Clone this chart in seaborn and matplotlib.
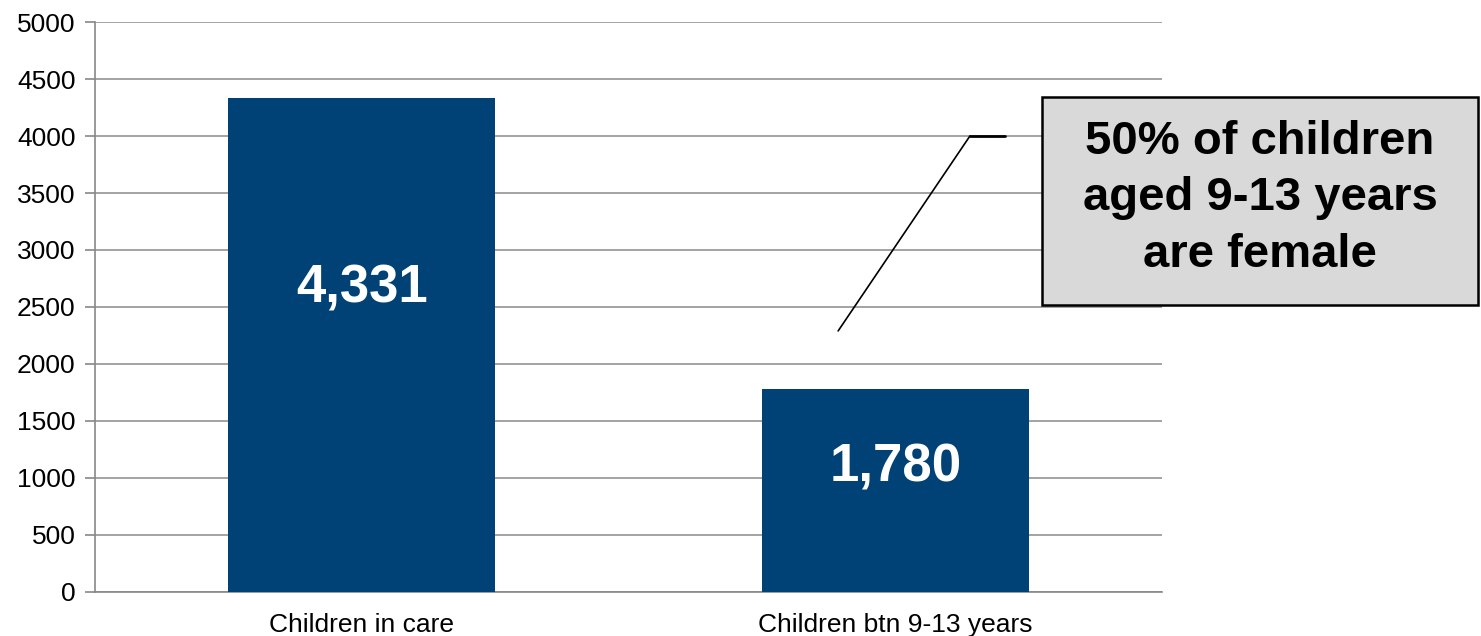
import matplotlib
matplotlib.use("Agg")
import matplotlib.pyplot as plt
import seaborn as sns
import pandas as pd
from matplotlib.patches import Rectangle

categories = ["Children in care", "Children btn 9-13 years"]
values = [4331, 1780]
value_labels = ["4,331", "1,780"]
yticks = [0, 500, 1000, 1500, 2000, 2500, 3000, 3500, 4000, 4500, 5000]
callout_text = "50% of children\naged 9-13 years\nare female"

sns.set_theme(style="white")
plt.rcParams['font.family'] = ['Liberation Sans', 'DejaVu Sans']

df = pd.DataFrame({"cat": categories, "val": values})

fig = plt.figure(figsize=(14.81, 6.36), dpi=100)
ax = fig.add_axes([0.0641, 0.0692, 0.7205, 0.8962])

sns.barplot(data=df, x="cat", y="val", color="#004276", width=0.5, saturation=1,
            linewidth=0, edgecolor="none", ax=ax, zorder=3)

ax.set_xlim(-0.5, 1.5)
ax.set_ylim(0, 5000)
ax.set_yticks(yticks)
ax.set_yticklabels([str(t) for t in yticks], fontsize=19, color="black")
ax.set_xlabel("")
ax.set_ylabel("")
ax.tick_params(axis="x", which="major", length=0, labelsize=19, pad=15, labelcolor="black")
ax.set_xticks([-0.5, 0.5, 1.5], minor=True)
ax.tick_params(axis="x", which="minor", length=7, width=1.2, color="#878787", direction="out")
ax.tick_params(axis="y", which="major", length=7, width=1.2, color="#878787", direction="out", left=True, pad=7)

ax.grid(axis="y", color="#8a8a8a", linewidth=1.1, zorder=0)
ax.set_axisbelow(True)
for s in ["top", "right"]:
    ax.spines[s].set_visible(False)
for s in ["left", "bottom"]:
    ax.spines[s].set_color("#878787")
    ax.spines[s].set_linewidth(1.2)

for i, (v, lab) in enumerate(zip(values, value_labels)):
    ax.text(i, v * 0.615, lab, ha="center", va="center", color="white",
            fontsize=38, fontweight="bold", zorder=5)

# callout leader line
ax.plot([0.893, 1.14], [2290, 4000], color="black", lw=1.2, clip_on=False, zorder=6)
ax.plot([1.14, 1.206], [4000, 4000], color="black", lw=2.0, clip_on=False, zorder=6)

# callout box
rect = Rectangle((0.7036, 0.5204), 0.2944, 0.327, transform=fig.transFigure,
                 facecolor="#d9d9d9", edgecolor="black", linewidth=1.8, zorder=10)
fig.patches.append(rect)
fig.text(0.8508, 0.688, callout_text, ha="center", va="center", fontsize=34,
         fontweight="bold", color="black", linespacing=1.38, zorder=11)

fig.savefig("out.png", dpi=100)
